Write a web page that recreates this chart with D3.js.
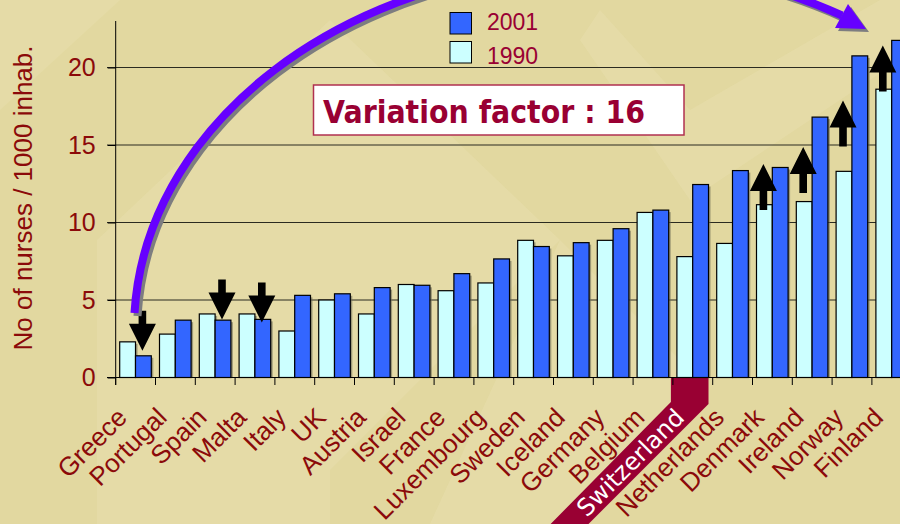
<!DOCTYPE html>
<html>
<head>
<meta charset="utf-8">
<script src="https://cdn.jsdelivr.net/npm/d3@7"></script>
<style>
  body { margin: 0; background: #e2d8a0; }
  svg { display: block; }
</style>
</head>
<body>
<script>
// values (nurses per 1000 inhabitants)
var countries = ['Greece', 'Portugal', 'Spain', 'Malta', 'Italy', 'UK', 'Austria', 'Israel', 'France',
  'Luxembourg', 'Sweden', 'Iceland', 'Germany', 'Belgium', 'Switzerland', 'Netherlands', 'Denmark',
  'Ireland', 'Norway', 'Finland'];
var nurses1990 = [2.3, 2.8, 4.1, 4.1, 3.0, 5.0, 4.1, 6.0, 5.6, 6.1, 8.85, 7.85, 8.85, 10.65, 7.8, 8.65,
  11.15, 11.35, 13.3, 18.6];
var nurses2001 = [1.4, 3.7, 3.7, 3.75, 5.3, 5.4, 5.8, 5.95, 6.7, 7.65, 8.45, 8.7, 9.6, 10.8, 12.45, 13.35,
  13.55, 16.8, 20.75, 21.75];
var legendSeries = ['2001', '1990'];
var yTicks = [0, 5, 10, 15, 20];
var highlight = 'Switzerland';

// black block arrows: which bar, which way, and the value where tip (down) or tail (up) sits
var arrowCountries = ['Greece', 'Spain', 'Malta', 'Denmark', 'Ireland', 'Norway', 'Finland'];
var arrowSeries = ['2001', '2001', '2001', '1990', '1990', '1990', '1990'];
var arrowDir = ['down', 'down', 'down', 'up', 'up', 'up', 'up'];
var arrowAt = [1.73, 3.75, 3.55, 10.8, 11.9, 14.9, 18.45];

var width = 900, height = 524;
var colors = { '2001': '#3366ff', '1990': '#ccffff' };
var red = '#8b0a0a', crimson = '#990033';

var svg = d3.select('body').append('svg')
  .attr('width', width)
  .attr('height', height);

// background with soft lighter chevrons
svg.append('rect').attr('width', width).attr('height', height).attr('fill', '#e2d8a0');
var bgShapes = [
  [[97, 524], [97, 240], [330, 20], [330, 524]],
  [[330, 20], [560, 240], [330, 470]],
  [[600, 10], [690, 110], [880, 0], [900, 0], [900, 60], [690, 200], [580, 40]],
  [[0, 0], [120, 0], [0, 110]],
  [[560, 240], [700, 380], [560, 524], [430, 524]]
];
svg.selectAll('.bg').data(bgShapes).enter().append('polygon')
  .attr('class', 'bg')
  .attr('points', function(d) { return d.join(' '); })
  .attr('fill', '#e9dfb0')
  .attr('opacity', 0.45);

var x0 = d3.scaleBand().domain(countries).range([115.7, 911.7]);
var x1 = d3.scaleBand().domain(['1990', '2001']).range([4, 35.6]);
var y = d3.scaleLinear().domain([0, 23]).range([377.5, 21]);

// gridlines
svg.selectAll('.grid').data(yTicks.slice(1)).enter().append('line')
  .attr('class', 'grid')
  .attr('x1', 107).attr('x2', width)
  .attr('y1', function(d) { return y(d); })
  .attr('y2', function(d) { return y(d); })
  .attr('stroke', '#2b2b20').attr('stroke-width', 1);

// y axis
var yAxis = svg.append('g')
  .attr('transform', 'translate(115.7,0)')
  .call(d3.axisLeft(y).tickValues(yTicks).tickSize(8).tickPadding(12));
yAxis.select('.domain').remove();
yAxis.selectAll('line').attr('stroke', '#000');
yAxis.selectAll('text')
  .attr('fill', red)
  .style('font-family', '"Liberation Sans", Arial, sans-serif')
  .style('font-size', '25px');
svg.append('line')
  .attr('x1', 115.7).attr('x2', 115.7).attr('y1', y(23)).attr('y2', 385)
  .attr('stroke', '#000');

svg.append('text')
  .attr('transform', 'translate(32,198) rotate(-90)')
  .attr('text-anchor', 'middle')
  .attr('fill', red)
  .style('font-family', '"Liberation Sans", Arial, sans-serif')
  .style('font-size', '26px')
  .text('No of nurses / 1000 inhab.');

// switzerland highlight band under the axis
var sx = x0(highlight) - 2;
var sr = x0(highlight) + x1('2001') + x1.bandwidth();
svg.append('polygon')
  .attr('points', [[sx, y(0)], [sr, y(0)], [sr, 404], [sr - 140, 544], [sx - 140, 544], [sx, 402]].join(' '))
  .attr('fill', crimson);

// bars
var rows = countries.map(function(c, i) {
  return { country: c, values: [{ key: '1990', v: nurses1990[i] }, { key: '2001', v: nurses2001[i] }] };
});
var groups = svg.selectAll('.country').data(rows).enter().append('g')
  .attr('class', 'country')
  .attr('transform', function(d) { return 'translate(' + x0(d.country) + ',0)'; });
groups.selectAll('.shadow').data(function(d) { return d.values; }).enter().append('rect')
  .attr('class', 'shadow')
  .attr('x', function(d) { return x1(d.key) + 2; })
  .attr('y', function(d) { return y(d.v) + 2; })
  .attr('width', x1.bandwidth())
  .attr('height', function(d) { return y(0) - y(d.v) - 2; })
  .attr('fill', '#6d6a55').attr('opacity', 0.6);
groups.selectAll('.bar').data(function(d) { return d.values; }).enter().append('rect')
  .attr('class', 'bar')
  .attr('x', function(d) { return x1(d.key); })
  .attr('y', function(d) { return y(d.v); })
  .attr('width', x1.bandwidth())
  .attr('height', function(d) { return y(0) - y(d.v); })
  .attr('fill', function(d) { return colors[d.key]; })
  .attr('stroke', '#000').attr('stroke-width', 1.2);

// x axis line and ticks between categories
svg.append('line')
  .attr('x1', 107).attr('x2', width).attr('y1', y(0)).attr('y2', y(0))
  .attr('stroke', '#000');
svg.selectAll('.xtick').data(countries).enter().append('line')
  .attr('class', 'xtick')
  .attr('x1', function(d) { return x0(d); }).attr('x2', function(d) { return x0(d); })
  .attr('y1', y(0)).attr('y2', 385)
  .attr('stroke', '#000');

svg.selectAll('.xlabel').data(countries).enter().append('text')
  .attr('class', 'xlabel')
  .attr('transform', function(d) {
    return 'translate(' + (x0(d) + x0.bandwidth() / 2 - 7) + ',419) rotate(-45)';
  })
  .attr('text-anchor', 'end')
  .attr('fill', function(d) { return d === highlight ? '#fff' : red; })
  .style('font-family', function(d) {
    return d === highlight ? '"DejaVu Sans", sans-serif' : '"Liberation Sans", Arial, sans-serif';
  })
  .style('font-size', function(d) { return d === highlight ? '24px' : '26px'; })
  .text(function(d) { return d; });

// block arrows
function arrowPoints(cx, at, dir) {
  var len = dir === 'down' ? 40 : 46, head = 27, hw = 13.5, sw = 3.8;
  // base point is the tip for down arrows, the tail for up arrows
  var tip = dir === 'down' ? at : at - len;
  var tail = dir === 'down' ? at - len : at;
  var hb = dir === 'down' ? tip - head : tip + head;
  return [[cx - sw, tail], [cx + sw, tail], [cx + sw, hb], [cx + hw, hb], [cx, tip], [cx - hw, hb], [cx - sw, hb]];
}
var arrows = arrowCountries.map(function(c, i) {
  return { cx: x0(c) + x1(arrowSeries[i]) + x1.bandwidth() / 2 - 1, at: y(arrowAt[i]), dir: arrowDir[i] };
});
svg.selectAll('.arrow').data(arrows).enter().append('polygon')
  .attr('class', 'arrow')
  .attr('points', function(d) { return arrowPoints(d.cx, d.at, d.dir).join(' '); })
  .attr('fill', '#000');

// big purple curved arrow
var arc = 'M134.5,313 A470,365 0 0 1 842,15.5';
var head = [[848, 4], [835, 28], [866, 29]];
svg.append('path').attr('d', arc).attr('transform', 'translate(3,3)')
  .attr('fill', 'none').attr('stroke', '#7d7d80').attr('stroke-width', 8);
svg.append('polygon').attr('points', head.join(' ')).attr('transform', 'translate(3,3)')
  .attr('fill', '#7d7d80');
svg.append('path').attr('d', arc)
  .attr('fill', 'none').attr('stroke', '#6600ff').attr('stroke-width', 8);
svg.append('polygon').attr('points', head.join(' ')).attr('fill', '#6600ff');

// legend
var legend = svg.selectAll('.legend').data(legendSeries).enter().append('g')
  .attr('class', 'legend');
legend.append('rect')
  .attr('x', 450).attr('y', function(d, i) { return 12.5 + i * 29; })
  .attr('width', 21.5).attr('height', 21.5)
  .attr('fill', function(d) { return colors[d]; })
  .attr('stroke', '#000').attr('stroke-width', 1);
legend.append('text')
  .attr('x', 487).attr('y', function(d, i) { return 29.5 + i * 34.5; })
  .attr('fill', crimson)
  .style('font-family', '"Liberation Sans", Arial, sans-serif')
  .style('font-size', '23px')
  .text(function(d) { return d; });

// variation factor box
svg.append('rect')
  .attr('x', 313.5).attr('y', 85).attr('width', 370.5).attr('height', 50)
  .attr('fill', '#fff').attr('stroke', '#b03050').attr('stroke-width', 1.5);
svg.append('text')
  .attr('x', 323).attr('y', 123)
  .attr('fill', crimson)
  .attr('textLength', 322).attr('lengthAdjust', 'spacingAndGlyphs')
  .style('font-family', '"DejaVu Sans", sans-serif')
  .style('font-weight', 'bold')
  .style('font-size', '32px')
  .text('Variation factor : 16');
</script>
</body>
</html>
